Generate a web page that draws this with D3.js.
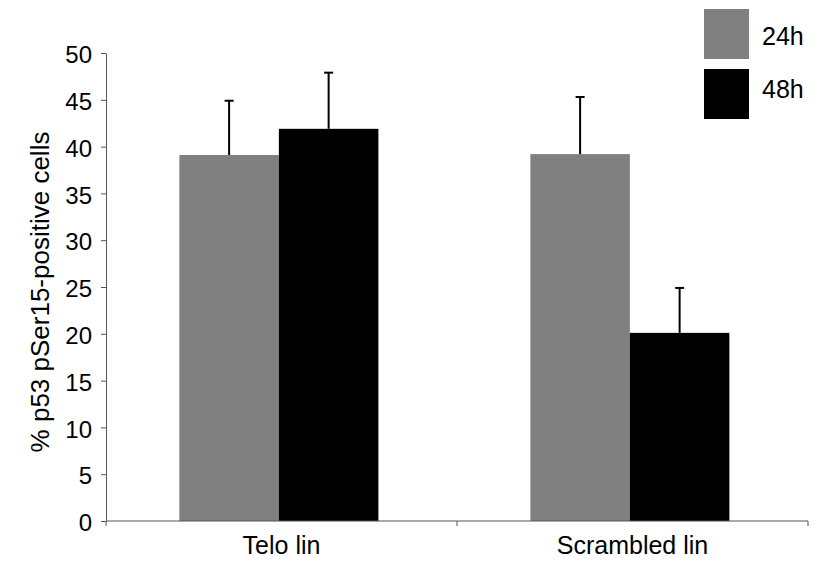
<!DOCTYPE html>
<html><head><meta charset="utf-8">
<script src="https://cdn.jsdelivr.net/npm/d3@7"></script>
<style>body{margin:0;background:#fff}svg{display:block}text{font-family:"Liberation Sans",Arial,sans-serif}</style>
</head><body>
<svg id="c" width="829" height="563"></svg>
<script>
const categories = ["Telo lin", "Scrambled lin"];
const seriesNames = ["24h", "48h"];
const seriesColors = ["#808080", "#000000"];
const values24h = [39.1, 39.2];
const values48h = [41.9, 20.1];
const errors24h = [5.8, 6.1];
const errors48h = [6.0, 4.8];
const yTicks = [0, 5, 10, 15, 20, 25, 30, 35, 40, 45, 50];
const yLabel = "% p53 pSer15-positive cells";

const svg = d3.select("#c");
const L = 106, R = 808, T = 53, B = 521;
const x = d3.scaleBand().domain(categories).range([L, R]).padding(0);
const bw = x.bandwidth();
const xi = d3.scaleBand().domain(seriesNames).range([bw * 0.209, bw * 0.776]).padding(0);
const y = d3.scaleLinear().domain([0, 50]).range([B, T]);

const data = [];
categories.forEach((c, i) => {
  data.push({c, s: "24h", v: values24h[i], e: errors24h[i], col: seriesColors[0]});
  data.push({c, s: "48h", v: values48h[i], e: errors48h[i], col: seriesColors[1]});
});

svg.selectAll("rect.bar").data(data).enter().append("rect")
  .attr("x", d => x(d.c) + xi(d.s)).attr("width", xi.bandwidth())
  .attr("y", d => y(d.v)).attr("height", d => y(0) - y(d.v)).attr("fill", d => d.col);

const eg = svg.append("g");
data.forEach(d => {
  const cx = x(d.c) + xi(d.s) + xi.bandwidth() / 2;
  eg.append("line").attr("x1", cx).attr("x2", cx).attr("y1", y(d.v)).attr("y2", y(d.v + d.e))
    .attr("stroke", "#000").attr("stroke-width", 2);
  eg.append("line").attr("x1", cx - 4.5).attr("x2", cx + 4.5).attr("y1", y(d.v + d.e)).attr("y2", y(d.v + d.e))
    .attr("stroke", "#000").attr("stroke-width", 2);
});

// y axis
const ya = svg.append("g").attr("transform", `translate(${L},0)`)
  .call(d3.axisLeft(y).tickValues(yTicks).tickSize(5).tickPadding(9).tickSizeOuter(0));
ya.attr("font-size", null).attr("font-family", null);
ya.select(".domain").attr("stroke", "#555");
ya.selectAll(".tick line").attr("stroke", "#555");
ya.selectAll("text").style("font-size", "24px").attr("fill", "#000").attr("dy", "0.4em");

// x axis
const xa = svg.append("g").attr("transform", `translate(0,${B})`);
xa.append("line").attr("x1", L).attr("x2", R).attr("y1", 0).attr("y2", 0).attr("stroke", "#555");
[L, L + bw, R].forEach(px => xa.append("line").attr("x1", px).attr("x2", px).attr("y1", 0).attr("y2", 5).attr("stroke", "#555"));
categories.forEach(c => xa.append("text").attr("x", x(c) + bw / 2).attr("y", 33)
  .attr("text-anchor", "middle").style("font-size", "25px").text(c));

svg.append("text").attr("transform", `translate(49,292) rotate(-90)`)
  .attr("text-anchor", "middle").style("font-size", "26px").text(yLabel);

// legend
seriesNames.forEach((s, i) => {
  svg.append("rect").attr("x", 704).attr("y", 9 + i * 60).attr("width", 45).attr("height", 50).attr("fill", seriesColors[i]);
  svg.append("text").attr("x", 762).attr("y", 45 + i * 53).style("font-size", "25px").text(s);
});
</script>
</body></html>
